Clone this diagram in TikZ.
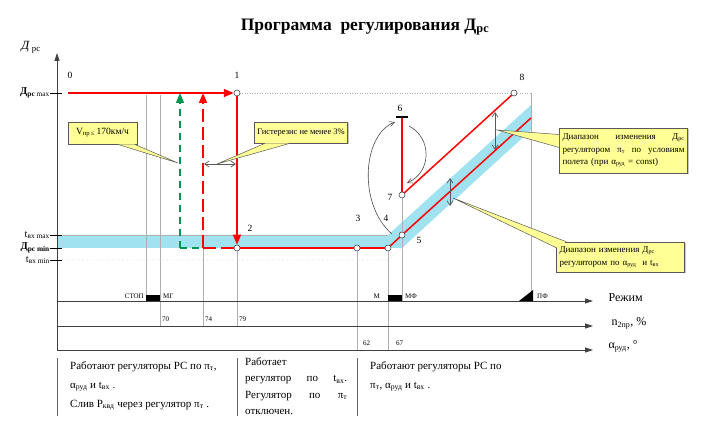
\documentclass[tikz,border=0pt]{standalone}
\usepackage{fontspec}
\setmainfont{Liberation Serif}
\usetikzlibrary{arrows.meta,shadows}

\definecolor{bandblue}{RGB}{160,226,240}
\definecolor{noteyellow}{RGB}{255,255,150}
\definecolor{dashgreen}{RGB}{0,150,80}
\definecolor{guidegray}{RGB}{175,175,175}

\begin{document}
\begin{tikzpicture}[x=1pt,y=-1pt,
  redline/.style={red,line width=1.5pt},
  guideline/.style={guidegray,line width=0.5pt},
  axisline/.style={black!75,line width=0.8pt,-{Triangle[length=8pt,width=5pt]}},
  point/.style={circle,draw=black!80,fill=white,line width=0.5pt,inner sep=0pt,minimum size=6pt},
  ptlabel/.style={font=\fontsize{9.5}{10}\selectfont},
  modelabel/.style={font=\fontsize{7}{8}\selectfont,inner sep=1pt},
  levellabel/.style={font=\fontsize{10.5}{11}\selectfont,anchor=east,inner sep=1pt},
  notebox/.style={draw=black!65,fill=noteyellow,line width=0.6pt,inner sep=3pt,
    font=\fontsize{8.5}{10}\selectfont,
    drop shadow={shadow xshift=1pt,shadow yshift=-1pt,fill=black!45}},
  wedge/.style={draw=black!65,fill=noteyellow,line width=0.5pt},
  spanarrow/.style={black!65,line width=0.7pt,{Straight Barb[length=4.5pt,width=6pt]}-{Straight Barb[length=4.5pt,width=6pt]}},
  swing/.style={black!70,line width=0.6pt,-{Straight Barb[length=5pt,width=5pt]}},
  bigtip/.style={-{Triangle[length=10pt,width=8pt]}},
  axislabel/.style={anchor=west,font=\fontsize{12}{14}\selectfont},
  coltext/.style={anchor=north west,inner sep=0pt,align=left,font=\fontsize{11}{19}\selectfont}]
\useasboundingbox (0,0) rectangle (709,446);

\node[font=\bfseries\fontsize{17.5}{20}\selectfont] (title) at (365,27) {Программа\ \ регулирования Д\textsubscript{рс}};

% band of the regulator
\fill[bandblue] (57,235) -- (388,235) -- (531,105) -- (531,130) -- (402,248) -- (57,248) -- cycle;

% guides
\draw[guideline] (57,235) -- (388,235);
\draw[guideline,dotted] (57,260) -- (388,260) -- (402,248);
\draw[guideline,dotted] (237,93) -- (531,93);
\draw[guideline] (531,93) -- (531,301);
\draw[guideline] (146,95) -- (146,301);
\draw[guideline] (160,95) -- (160,326);
\draw[guideline] (203,248) -- (203,326);
\draw[guideline] (237,248) -- (237,326);
\draw[guideline] (357,248) -- (357,350);
\draw[guideline] (388,248) -- (388,350);
\draw[guideline] (402,195) -- (402,301);

% axes
\coordinate (origin) at (57,350);
\coordinate (yTop) at (57,53);
\draw[axisline] (origin) -- (yTop);
\draw[axisline] (57,301) -- (593,301);
\draw[axisline] (57,326) -- (593,326);
\draw[axisline] (origin) -- (593,350);
\node[font=\fontsize{12.5}{14}\selectfont] (yLabel) at (31,47) {\textit{Д}\,\textsubscript{рс}};
\node[axislabel] (modeAxis) at (605,298) {Режим};
\node[axislabel] (rpmAxis) at (608,323) {n\textsubscript{2пр}, \%};
\node[axislabel] (throttleAxis) at (605,346) {α\textsubscript{руд}, °};

% levels
\draw[black] (50,93) -- (62,93);
\draw[black] (50,235) -- (62,235);
\draw[black] (50,248) -- (62,248);
\draw[black] (50,260) -- (62,260);
\node[levellabel] (dMax) at (51,93) {\textbf{Д}\textsubscript{\textbf{рс} max}};
\node[levellabel] (tMax) at (51,235) {t\textsubscript{вх max}};
\node[levellabel] (dMin) at (51,248) {\textbf{Д}\textsubscript{\textbf{рс min}}};
\node[levellabel] (tMin) at (51,260) {t\textsubscript{вх min}};

% modes
\fill (146,295) rectangle (160,301);
\fill (388,295) rectangle (402,301);
\fill (519,301) -- (533,301) -- (533,290) -- cycle;
\node[modelabel,anchor=east] (stop) at (145,296) {СТОП};
\node[modelabel,anchor=west] (idle) at (162,296) {МГ};
\node[modelabel,anchor=east] (mode) at (381,296) {М};
\node[modelabel,anchor=west] (modeF) at (404,296) {МФ};
\node[modelabel,anchor=west] (fullF) at (536,296) {ПФ};
\node[modelabel,anchor=west] (n70) at (161,319) {70};
\node[modelabel,anchor=west] (n74) at (204,319) {74};
\node[modelabel,anchor=west] (n79) at (238,319) {79};
\node[modelabel,anchor=west] (a62) at (362,343) {62};
\node[modelabel,anchor=west] (a67) at (395,343) {67};

% program points
\coordinate (start) at (68,93);
\node[point] (p1) at (237,93) {};
\node[point] (p2) at (237,248) {};
\node[point] (p3) at (357,248) {};
\node[point] (p4) at (388,248) {};
\node[point] (p5) at (402,235) {};
\coordinate (p6) at (402,117);
\node[point] (p7) at (402,195) {};
\node[point] (p8) at (514,93) {};
\coordinate (diagEnd) at (531,118);

\node[ptlabel] (l0) at (70,75) {0};
\node[ptlabel] (l1) at (237,75) {1};
\node[ptlabel] (l2) at (250,228) {2};
\node[ptlabel] (l3) at (358,218) {3};
\node[ptlabel] (l4) at (386,218) {4};
\node[ptlabel] (l5) at (419,240) {5};
\node[ptlabel] (l6) at (400,108) {6};
\node[ptlabel] (l7) at (390,197) {7};
\node[ptlabel] (l8) at (522,77) {8};

\draw[redline,bigtip] (start) -- (p1);
\draw[redline,bigtip] (p1) -- (p2);
\draw[redline] (p2) -- (p3);
\draw[redline] (p3) -- (p4);
\draw[redline] (p4) -- (p5);
\draw[redline] (p5) -- (diagEnd);
\draw[redline] (p6) -- (p7);
\draw[redline] (p7) -- (p8);
\draw[black,line width=1.3pt] (396,117) -- (408,117);

% hysteresis
\coordinate (greenBase) at (180,248);
\coordinate (greenTop) at (180,93);
\coordinate (redBase) at (203,248);
\coordinate (redTop) at (203,93);
\draw[dashgreen,line width=1.5pt,dash pattern=on 7pt off 5pt,bigtip] (greenBase) -- (greenTop);
\draw[dashgreen,line width=1.5pt,dash pattern=on 7pt off 5pt] (greenBase) -- (redBase);
\draw[red,line width=1.5pt,dash pattern=on 13pt off 5pt,bigtip] (redBase) -- (redTop);
\draw[red,line width=1.5pt,dash pattern=on 13pt off 5pt] (redBase) -- (p2);

\coordinate (hystL) at (204,164);
\coordinate (hystR) at (236,164);
\draw[spanarrow] (hystL) -- (hystR);

% ranges
\coordinate (rangeTopA) at (495,112);
\coordinate (rangeBotA) at (495,150);
\coordinate (rangeTopB) at (450,178);
\coordinate (rangeBotB) at (450,206);
\draw[spanarrow] (rangeTopA) -- (rangeBotA);
\draw[spanarrow] (rangeTopB) -- (rangeBotB);

% switching 4-6-7
\draw[swing] (392,234) .. controls (358,205) and (362,135) .. (395,122);
\draw[swing] (409,126) .. controls (432,138) and (432,172) .. (407,183);

% notes
\coordinate (speedTip) at (178,163);
\coordinate (hystTip) at (217,164);
\coordinate (rangeTipA) at (497,130);
\coordinate (rangeTipB) at (453,198);

\node[notebox,minimum width=69pt,minimum height=22pt,font=\fontsize{9.5}{11}\selectfont] (speedNote) at (102.5,133) {V\textsubscript{пр\,≤}\,170км/ч};
\node[notebox,minimum width=88pt,minimum height=21pt] (hystNote) at (301,132.5) {Гистерезис не менее 3\%};
\node[notebox,text width=122pt,minimum height=45pt,align=left,font=\fontsize{9}{12.5}\selectfont] (rangeNoteA) at (623.5,150.5)
  {Диапазон\hfill изменения\hfill Д\textsubscript{рс}\\ регулятором\hfill π\textsubscript{т}\hfill по\hfill условиям\\ полета (при α\textsubscript{руд} = const)};
\node[notebox,text width=122pt,minimum height=30pt,align=left,font=\fontsize{9}{12.5}\selectfont] (rangeNoteB) at (620.5,257)
  {Диапазон изменения Д\textsubscript{рс}\\ регулятором по α\textsubscript{руд}\ \ и t\textsubscript{вх}};

\draw[wedge] ([xshift=15pt]speedNote.south) -- (speedTip) -- ([xshift=32pt]speedNote.south);
\draw[wedge] ([xshift=-36pt]hystNote.south) -- (hystTip) -- ([xshift=-11pt]hystNote.south);
\draw[wedge] ([yshift=16pt]rangeNoteA.west) -- (rangeTipA) -- ([yshift=3pt]rangeNoteA.west);
\draw[wedge] ([yshift=-6pt]rangeNoteB.north west) -- (rangeTipB) -- ([xshift=10pt]rangeNoteB.north west);

% regulators in work
\draw[black!60,line width=1pt] (57,358) -- (57,416);
\draw[black!60,line width=1pt] (237,358) -- (237,416);
\draw[black!60,line width=1pt] (357,358) -- (357,416);
\node[coltext] (colA) at (70,361) {Работают регуляторы РС по π\textsubscript{т},\\ α\textsubscript{руд} и t\textsubscript{вх} .\\ Слив Р\textsubscript{квд} через регулятор π\textsubscript{т} .};
\node[coltext,text width=102pt,font=\fontsize{11}{16.5}\selectfont] (colB) at (245,357) {Работает\\ регулятор\hfill по\hfill t\textsubscript{вх}.\\ Регулятор\hfill по\hfill π\textsubscript{т}\\ отключен.};
\node[coltext] (colC) at (370,361) {Работают регуляторы РС по\\ π\textsubscript{т}, α\textsubscript{руд} и t\textsubscript{вх} .};
\end{tikzpicture}
\end{document}
